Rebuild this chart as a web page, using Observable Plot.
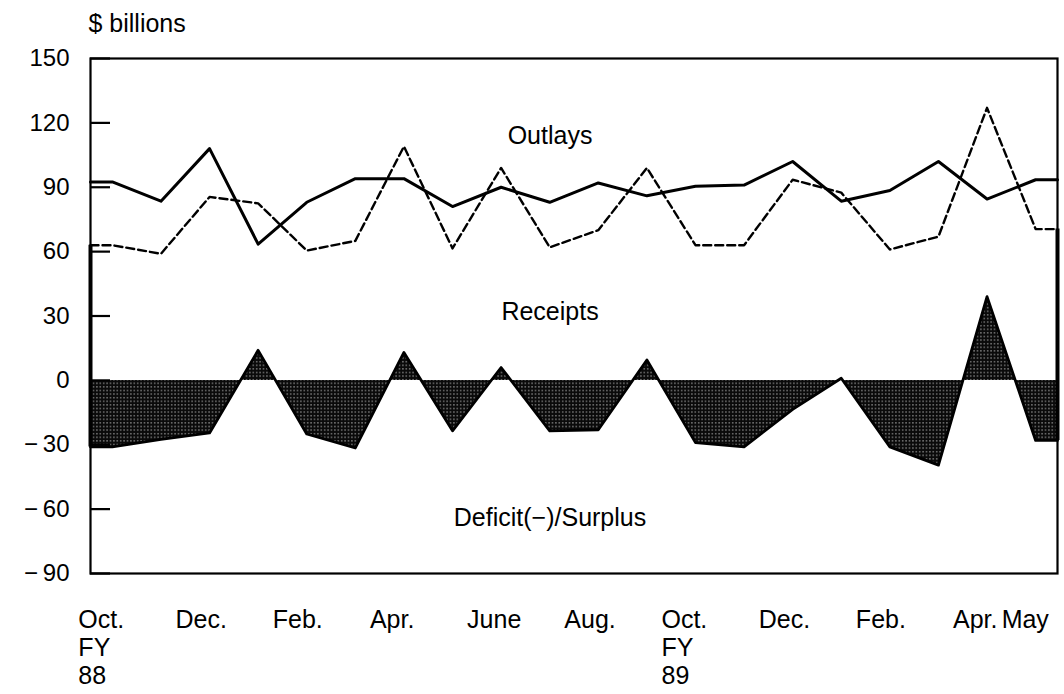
<!DOCTYPE html>
<html>
<head>
<meta charset="utf-8">
<script src="https://cdn.jsdelivr.net/npm/d3@7"></script>
<script src="https://cdn.jsdelivr.net/npm/@observablehq/plot@0.6"></script>
<style>
  html, body { margin: 0; padding: 0; background: #fff; }
  #chart svg { display: block; }
</style>
</head>
<body>
<div id="chart"></div>
<script>
// Months Oct. FY88 (Oct 1987) through May FY89 (May 1989), $ billions
const months = ["Oct87","Nov87","Dec87","Jan88","Feb88","Mar88","Apr88","May88","Jun88","Jul88",
                "Aug88","Sep88","Oct88","Nov88","Dec88","Jan89","Feb89","Mar89","Apr89","May89"];
const outlays  = [92.5, 83.5, 108, 63.5, 83, 94, 94, 81, 90, 83, 92, 86, 90.5, 91, 102, 83.5, 88.5, 102, 84.5, 93.5];
const receipts = [63, 59, 85.5, 82.5, 60.5, 65, 109, 61.5, 99, 62, 70, 99, 63, 63, 93.5, 87.5, 61, 67, 127, 70.5];
const deficit  = [-31, -27.5, -24.5, 14, -25, -31.5, 13, -23.5, 6, -23.5, -23, 9.5, -29, -31, -13.5, 1, -31, -39.5, 39, -28];
const xTickIndex  = [0, 2, 4, 6, 8, 10, 12, 14, 16, 18, 19];
const xTickLabels = ["Oct.\nFY\n88", "Dec.", "Feb.", "Apr.", "June", "Aug.", "Oct.\nFY\n89", "Dec.", "Feb.", "Apr.", "May"];
const yTicks = [150, 120, 90, 60, 30, 0, -30, -60, -90];
const seriesLabels = ["Outlays", "Receipts", "Deficit(\u2212)/Surplus"];
const seriesLabelValues = [114, 32, -64];

const xDomain = [-0.45, 19.45];
const x0 = xDomain[0], x1 = xDomain[1];

// series rows; stubs extend first/last value to the frame edge like the original plotter
function rows(values) {
  const r = values.map((v, i) => ({i, v}));
  return [{i: x0, v: values[0]}, ...r, {i: x1, v: values[values.length - 1]}];
}
const outRows = rows(outlays);
const recRows = rows(receipts);
const defRows = rows(deficit);
const edgeRows = [
  {i: x0, a: receipts[0], b: deficit[0]},
  {i: x1, a: receipts[receipts.length - 1], b: deficit[deficit.length - 1]}
];
const labelRows = seriesLabels.map((t, k) => ({t, v: seriesLabelValues[k]}));

const fmtY = d => d < 0 ? "\u2212\u2009" + Math.abs(d) : String(d);
const fmtX = i => xTickLabels[xTickIndex.indexOf(i)];

const svg = Plot.plot({
  width: 1064,
  height: 694,
  marginLeft: 90,
  marginRight: 7,
  marginTop: 58,
  marginBottom: 121,
  style: {fontFamily: "'Liberation Sans', Arial, Helvetica, sans-serif", fontSize: "24px", color: "#000", background: "#fff"},
  x: {domain: xDomain},
  y: {domain: [-90, 150]},
  marks: [
    Plot.areaY(defRows, {x: "i", y1: 0, y2: "v", fill: "url(#stipple)"}),
    Plot.lineY(defRows, {x: "i", y: "v", stroke: "#000", strokeWidth: 2.8}),
    Plot.lineY(recRows, {x: "i", y: "v", stroke: "#000", strokeWidth: 2.4, strokeDasharray: "8,4"}),
    Plot.lineY(outRows, {x: "i", y: "v", stroke: "#000", strokeWidth: 3}),
    Plot.ruleX(edgeRows, {x: "i", y1: "a", y2: "b", stroke: "#000", strokeWidth: 4}),
    Plot.axisY({ticks: yTicks, tickSize: 20, dx: 20, tickFormat: () => "", strokeWidth: 2.2, label: null}),
    Plot.axisY({ticks: yTicks, tickSize: 0, tickPadding: 21, tickFormat: fmtY, fontSize: 24, label: null}),
    Plot.axisX({ticks: xTickIndex, tickSize: 0, tickPadding: 34, tickFormat: fmtX, textAnchor: "start", dx: -34, fontSize: 25, lineHeight: 1.13, label: null}),
    Plot.frame({stroke: "#000", strokeWidth: 2.2}),
    Plot.text(labelRows, {y: "v", text: "t", frameAnchor: "middle", dx: -24, fontSize: 25, fill: "#000"}),
    Plot.text(["$ billions"], {frameAnchor: "top-left", text: d => d, textAnchor: "start", dy: -44, dx: -2, fontSize: 25, fill: "#000"})
  ]
});

const ns = "http://www.w3.org/2000/svg";
const defs = document.createElementNS(ns, "defs");
defs.innerHTML = '<pattern id="stipple" patternUnits="userSpaceOnUse" width="3.4" height="3.6">' +
  '<rect width="3.4" height="3.6" fill="#0a0a0a"/>' +
  '<rect x="1.2" y="1.2" width="1" height="1" fill="#fff"/></pattern>';
svg.insertBefore(defs, svg.firstChild);
document.getElementById("chart").appendChild(svg);
</script>
</body>
</html>
